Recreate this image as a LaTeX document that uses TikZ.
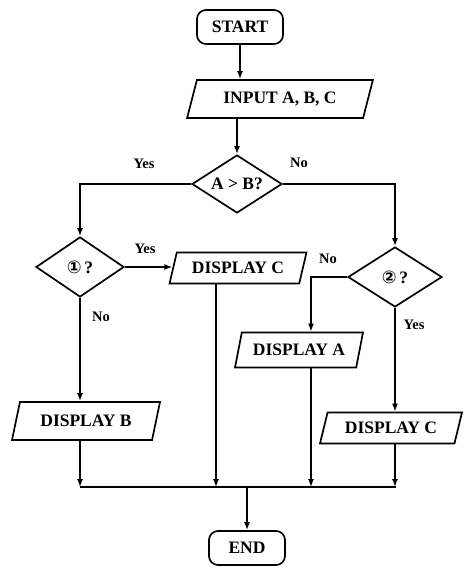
\documentclass[tikz,border=0pt]{standalone}
\usepackage{fontspec}
\setmainfont{Liberation Serif}
\newfontfamily\symfont{DejaVu Sans}
\usetikzlibrary{shapes.geometric,arrows.meta}
\begin{document}
\begin{tikzpicture}[x=1pt,y=-1pt,
  txt/.style={font=\fontsize{17.5}{20}\selectfont\bfseries},
  shapeline/.style={draw, line width=1.7pt, txt},
  term/.style={shapeline, rectangle, rounded corners=9pt, inner sep=0pt},
  io/.style={shapeline, trapezium, trapezium left angle=65, trapezium right angle=115, trapezium stretches=true, inner sep=0pt},
  dec/.style={shapeline, diamond, aspect=1.5, inner sep=0pt},
  conn/.style={line width=1.4pt, -{Latex[length=8pt,width=6pt]}},
  busline/.style={line width=1.4pt},
  lab/.style={font=\fontsize{14.5}{16}\selectfont\bfseries, inner sep=0pt}
]
\useasboundingbox (0,0) rectangle (463,570);

% nodes
\node[term, minimum width=86, minimum height=34] (start) at (240,27) {START};
\node[io, minimum width=186, minimum height=38] (input) at (280,99) {INPUT A, B, C};
\node[dec, minimum width=90, minimum height=58] (dA) at (237,184) {A > B?};
\node[dec, minimum width=88, minimum height=60] (dL) at (80,267) {{\symfont ①}\,?};
\node[dec, minimum width=94, minimum height=60] (dR) at (395,277) {{\symfont ②}\,?};
\node[io, minimum width=137, minimum height=31] (dispCm) at (238,268) {DISPLAY C};
\node[io, minimum width=128, minimum height=35] (dispA) at (299,350) {DISPLAY A};
\node[io, minimum width=148, minimum height=38] (dispB) at (86,421) {DISPLAY B};
\node[io, minimum width=142, minimum height=31] (dispCr) at (391,428) {DISPLAY C};
\node[term, minimum width=76, minimum height=34] (end) at (247,548) {END};

% labels
\node[lab] (yes1) at (144,164) {Yes};
\node[lab] (no1) at (299,163) {No};
\node[lab] (yes2) at (145,249) {Yes};
\node[lab] (no2) at (328,259) {No};
\node[lab] (no3) at (101,317) {No};
\node[lab] (yes3) at (414,325) {Yes};

% helper coordinates
\coordinate (colA) at (311,0);
\coordinate (colC) at (216,0);
\coordinate (bus) at (0,487);
\coordinate (busL) at (80,487);
\coordinate (busR) at (396,487);

% connectors
\draw[conn] (start.south) -- (start.south |- input.north);
\draw[conn] (dA.north |- input.south) -- (dA.north);
\draw[conn] (dA.west) -| (dL.north);
\draw[conn] (dA.east) -| (dR.north);
\draw[conn] (dL.east) -- (dL.east -| dispCm.west);
\draw[conn] (dL.south) -- (dL.south |- dispB.north);
\draw[conn] (dR.west) -| (colA |- dispA.north);
\draw[conn] (dR.south) -- (dR.south |- dispCr.north);

\draw[busline] (busL) -- (busR);
\draw[conn] (dL.south |- dispB.south) -- (dL.south |- bus);
\draw[conn] (colC |- dispCm.south) -- (colC |- bus);
\draw[conn] (colA |- dispA.south) -- (colA |- bus);
\draw[conn] (dR.south |- dispCr.south) -- (dR.south |- bus);
\draw[conn] (end.north |- bus) -- (end.north);
\end{tikzpicture}
\end{document}
